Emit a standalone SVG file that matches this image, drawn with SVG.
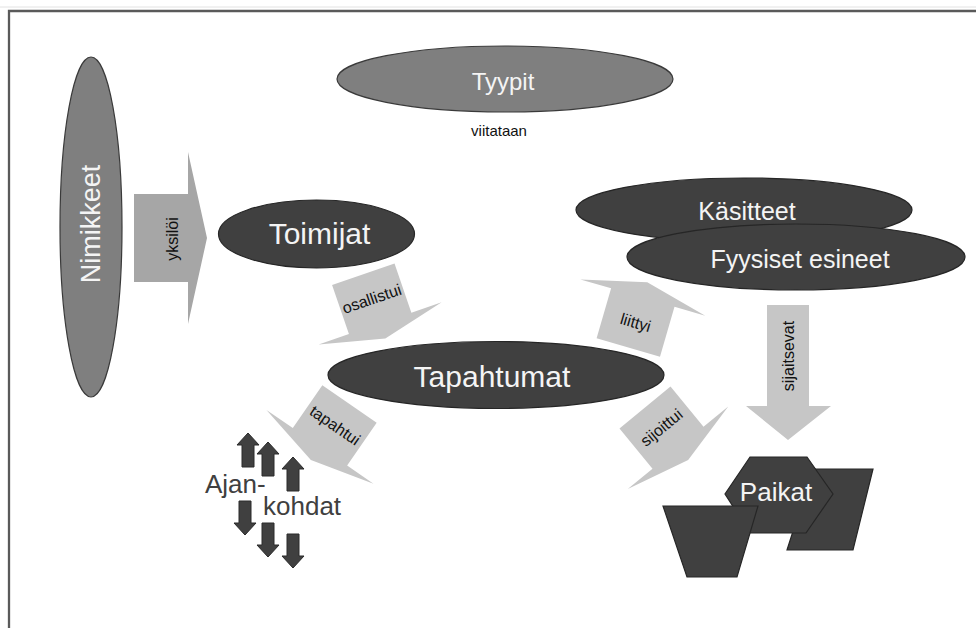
<svg xmlns="http://www.w3.org/2000/svg" width="976" height="628" viewBox="0 0 976 628">
<defs>
<style>
.dark{fill:#404040;stroke:#262626;stroke-width:1.2}
.mid{fill:#7f7f7f;stroke:#3a3a3a;stroke-width:1.2}
.arr{fill:#c6c6c6;stroke:none}
.arr2{fill:#a6a6a6;stroke:none}
.small{fill:#404040;stroke:#2a2a2a;stroke-width:1}
text{font-family:"Liberation Sans",Arial,sans-serif}
.wt{fill:#f4f4f4;text-anchor:middle}
.lb{fill:#111;font-size:16px;text-anchor:middle;dominant-baseline:central}
</style>
<path id="blk" d="M0,-33 H52 V-65 L68,0 L52,65 V33 H0 Z"/>
<path id="up" d="M0,0 L11,12 H6 V34 H-6 V12 H-11 Z"/>
</defs>
<rect width="976" height="628" fill="#fff"/>
<line x1="0" y1="7" x2="976" y2="7" stroke="#e2e2e2" stroke-width="1"/>
<path d="M976,11 H9 V628" fill="none" stroke="#5a5a5a" stroke-width="2.3"/>

<g id="connectors">
<g id="c-yksiloi">
<path class="arr2" d="M134,194 H188 V152 L207,238 L188,324 V282 H134 Z"/>
<text class="lb" transform="translate(172,239) rotate(-90)">yksilöi</text>
</g>
<g id="c-osallistui">
<use href="#blk" class="arr" transform="translate(363.3,274.2) rotate(71.1)"/>
<text class="lb" transform="translate(371.7,298.8) rotate(-18.9)">osallistui</text>
</g>
<g id="c-liittyi">
<use href="#blk" class="arr" transform="translate(628.3,347.5) rotate(-73.8)"/>
<text class="lb" transform="translate(635.6,322.5) rotate(16.2)">liittyi</text>
</g>
<g id="c-tapahtui">
<use href="#blk" class="arr" transform="translate(349.5,404) rotate(124.6)"/>
<text class="lb" transform="translate(335,425.4) rotate(34.6)">tapahtui</text>
</g>
<g id="c-sijoittui">
<use href="#blk" class="arr" transform="translate(645,407.5) rotate(50.6)"/>
<text class="lb" transform="translate(661.5,427.6) rotate(-39.4)">sijoittui</text>
</g>
<g id="c-sijaitsevat">
<path class="arr" d="M767,305 H809 V406 H831 L788,440 L746,406 H767 Z"/>
<text class="lb" transform="translate(788,356) rotate(-90)">sijaitsevat</text>
</g>
</g>

<g id="n-nimikkeet">
<ellipse class="mid" cx="91" cy="227" rx="31" ry="170"/>
<text class="wt" font-size="27" transform="translate(100,224) rotate(-90)">Nimikkeet</text>
</g>
<g id="n-tyypit">
<ellipse class="mid" cx="505" cy="79" rx="168" ry="33"/>
<text class="wt" font-size="24" x="503" y="90">Tyypit</text>
<text x="499" y="136" font-size="15" fill="#111" text-anchor="middle">viitataan</text>
</g>
<g id="n-toimijat">
<ellipse class="dark" cx="316.5" cy="234" rx="98" ry="34"/>
<text class="wt" font-size="30" x="319.5" y="244">Toimijat</text>
</g>
<g id="n-kasitteet">
<ellipse class="dark" cx="744" cy="210" rx="168" ry="32"/>
<text class="wt" font-size="25" x="747" y="220">Käsitteet</text>
</g>
<g id="n-fyysiset">
<ellipse class="dark" cx="796" cy="257" rx="169" ry="33"/>
<text class="wt" font-size="25" x="800" y="268">Fyysiset esineet</text>
</g>
<g id="n-tapahtumat">
<ellipse class="dark" cx="496" cy="375" rx="168" ry="33.5"/>
<text class="wt" font-size="30" x="492" y="387">Tapahtumat</text>
</g>
<g id="n-ajankohdat">
<use href="#up" class="small" x="0" y="0" transform="translate(248,433)"/>
<use href="#up" class="small" transform="translate(268,442)"/>
<use href="#up" class="small" transform="translate(293,457)"/>
<use href="#up" class="small" transform="translate(245,535) rotate(180)"/>
<use href="#up" class="small" transform="translate(268,557) rotate(180)"/>
<use href="#up" class="small" transform="translate(293,568) rotate(180)"/>
<text x="205" y="493" font-size="26" fill="#404040">Ajan-</text>
<text x="263" y="515" font-size="26" fill="#404040">kohdat</text>
</g>
<g id="n-paikat">
<path class="dark" d="M813,469 H873 L853,550 H787 Z"/>
<path class="dark" d="M750,457 H807 L833,494 L806,533 H750 L725,494 Z"/>
<path class="dark" d="M663,506 H758 L737,577 H687 Z"/>
<text class="wt" font-size="26" x="776" y="501">Paikat</text>
</g>
</svg>
